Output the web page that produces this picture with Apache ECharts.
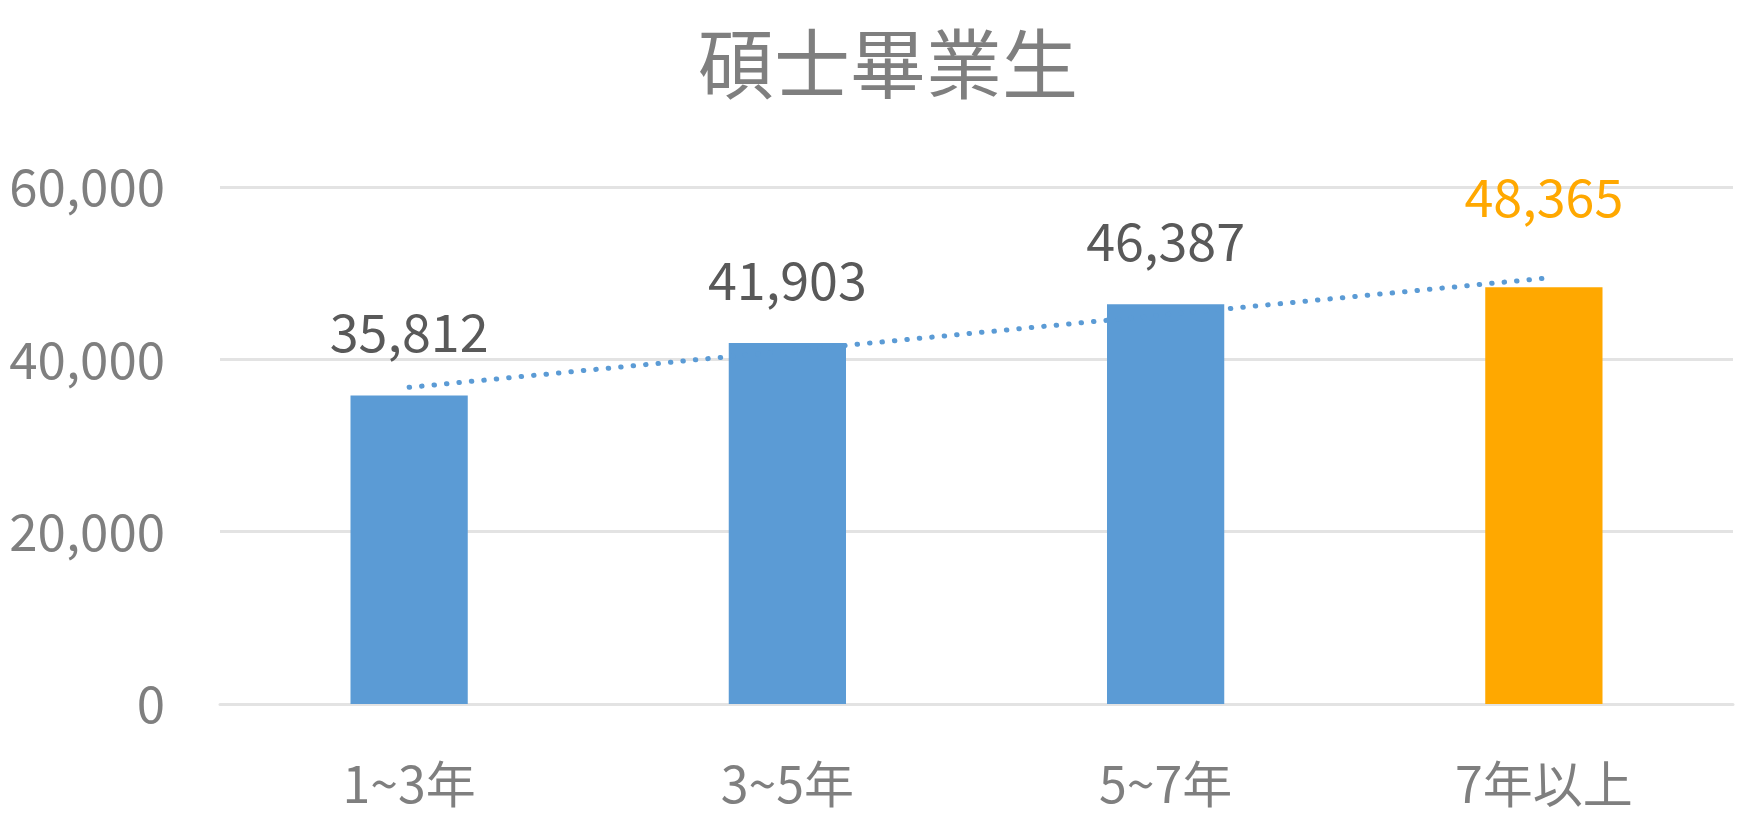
<!DOCTYPE html>
<html>
<head>
<meta charset="utf-8">
<script src="https://cdn.jsdelivr.net/npm/echarts@6/dist/echarts.min.js"></script>
<style>html,body{margin:0;padding:0;background:#fff}#c{width:1747px;height:827px}</style>
</head>
<body>
<div id="c"></div>
<script>
const titleText = '碩士畢業生';
const categories = ['1~3年', '3~5年', '5~7年', '7年以上'];
const salaries = [35812, 41903, 46387, 48365];
const highlightIndex = 3;
// dotted trendline endpoints (first and last category)
const trendValues = [36750, '-', '-', 49400];
const yTicks = [0, 20000, 40000, 60000];

const FONT = '"Noto Sans CJK TC", "Noto Sans", sans-serif';
const chart = echarts.init(document.getElementById('c'));
chart.setOption({
  animation: false,
  title: {
    text: titleText, left: 883, top: 21, textAlign: 'center',
    textStyle: { fontFamily: FONT, fontSize: 76, fontWeight: 'normal', color: '#7f7f7f' }
  },
  grid: { left: 220, right: 14, top: 187, bottom: 123, containLabel: false },
  xAxis: {
    type: 'category', data: categories,
    axisLine: { lineStyle: { color: '#e3e3e3', width: 3 } },
    axisTick: { show: false },
    axisLabel: { fontFamily: FONT, fontSize: 50, color: '#7f7f7f', margin: 55 }
  },
  yAxis: {
    type: 'value', min: yTicks[0], max: yTicks[yTicks.length - 1], interval: 20000,
    axisLine: { show: false }, axisTick: { show: false },
    splitLine: { lineStyle: { color: '#e3e3e3', width: 3 } },
    axisLabel: {
      fontFamily: FONT, fontSize: 51, color: '#7f7f7f', margin: 55,
      formatter: v => v.toLocaleString('en-US')
    }
  },
  series: [
    {
      type: 'bar', barWidth: '31%', z: 2,
      data: salaries.map((v, i) => ({
        value: v,
        itemStyle: { color: i === highlightIndex ? '#ffa800' : '#5b9bd5' },
        label: i === highlightIndex
          ? { color: '#ffa800', distance: 64 }
          : { color: '#595959', distance: 37 }
      })),
      label: {
        show: true, position: 'top', fontFamily: FONT, fontSize: 52,
        formatter: p => p.value.toLocaleString('en-US')
      }
    },
    {
      type: 'line', data: trendValues, connectNulls: true, symbol: 'none', z: 3,
      lineStyle: { color: '#5b9bd5', width: 5, type: [0.5, 12], cap: 'round' },
      silent: true
    }
  ]
});
</script>
</body>
</html>
